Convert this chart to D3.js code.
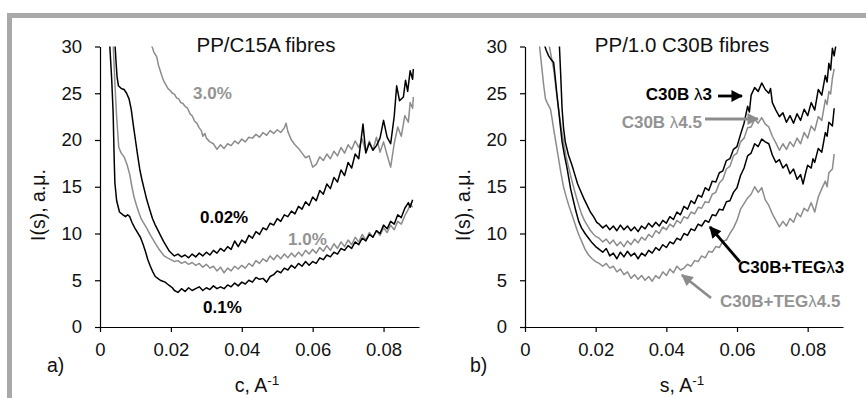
<!DOCTYPE html>
<html><head><meta charset="utf-8">
<script src="https://cdn.jsdelivr.net/npm/d3@7/dist/d3.min.js"></script>
<style>body{margin:0;background:#fff}svg{display:block;font-family:"Liberation Sans",Arial,sans-serif}</style>
</head><body><svg id="c" width="866" height="398"></svg>
<script>
// ---- data (s in A^-1, I(s) in a.u.) ----
const xTicks = [0, 0.02, 0.04, 0.06, 0.08];
const xTickLabels = ["0", "0.02", "0.04", "0.06", "0.08"];
const yTicks = [0, 5, 10, 15, 20, 25, 30];
const titleA = "PP/C15A fibres";
const titleB = "PP/1.0 C30B fibres";

const c15a_002 = [[0.0042,30.5],[0.0045,28.5],[0.0048,26.8],[0.0052,25.8],[0.006,25.5],[0.0068,25.4],[0.0075,25.0],[0.0082,24.4],[0.0088,23.3],[0.0094,21.6],[0.01,20.0],[0.0106,18.4],[0.0112,16.9],[0.0118,15.8],[0.0125,14.7],[0.0132,13.6],[0.014,12.6],[0.0148,11.6],[0.0156,10.9],[0.0164,10.3],[0.0172,9.7],[0.018,9.1],[0.0188,8.6],[0.0196,8.1],[0.0204,7.8],[0.021,7.6],[0.022,7.8],[0.023,7.5],[0.024,7.7],[0.025,7.4],[0.026,7.8],[0.027,7.5],[0.028,7.9],[0.029,7.6],[0.030,8.0],[0.031,7.7],[0.032,8.2],[0.033,7.9],[0.034,8.4],[0.035,8.1],[0.036,8.6],[0.037,8.3],[0.038,9.2],[0.039,8.6],[0.040,9.3],[0.041,9.0],[0.042,9.8],[0.043,9.5],[0.044,10.2],[0.045,9.9],[0.046,10.6],[0.047,10.4],[0.048,11.1],[0.049,10.9],[0.050,11.6],[0.051,11.3],[0.052,12.0],[0.053,11.8],[0.054,12.4],[0.055,12.1],[0.056,12.9],[0.057,12.6],[0.058,13.4],[0.059,13.0],[0.060,13.9],[0.061,13.5],[0.062,14.6],[0.063,14.2],[0.064,15.3],[0.065,14.8],[0.066,16.0],[0.067,15.5],[0.068,16.8],[0.069,16.2],[0.070,17.6],[0.071,17.0],[0.072,18.5],[0.073,18.0],[0.0742,21.7],[0.075,18.6],[0.076,19.7],[0.077,18.9],[0.078,19.4],[0.079,20.2],[0.080,22.1],[0.081,20.3],[0.082,19.6],[0.083,22.5],[0.0837,25.8],[0.0845,24.2],[0.0856,24.6],[0.0862,26.4],[0.0868,25.2],[0.0875,27.4],[0.0882,26.5],[0.0884,27.6]];

const c15a_01 = [[0.0027,30.5],[0.0033,26.5],[0.0037,23],[0.004,18],[0.0042,15.4],[0.0047,13.5],[0.0055,12.3],[0.0065,12.0],[0.0072,11.8],[0.0078,12.0],[0.0084,11.8],[0.009,11.2],[0.0098,10.6],[0.0106,10.1],[0.0114,9.6],[0.0121,8.9],[0.0128,8.1],[0.0135,7.2],[0.0142,6.5],[0.0149,5.9],[0.0156,5.4],[0.0163,5.2],[0.017,5.0],[0.0177,4.9],[0.0184,4.8],[0.019,4.6],[0.0197,4.4],[0.0204,4.2],[0.021,3.9],[0.022,3.7],[0.023,4.1],[0.024,3.8],[0.025,4.2],[0.026,3.9],[0.027,4.1],[0.028,4.3],[0.029,3.9],[0.030,4.2],[0.031,4.0],[0.032,4.4],[0.033,4.1],[0.034,4.3],[0.035,4.1],[0.036,4.5],[0.037,4.3],[0.038,4.7],[0.039,4.4],[0.040,4.8],[0.041,4.6],[0.042,5.0],[0.043,4.8],[0.044,5.3],[0.045,5.1],[0.046,5.2],[0.047,4.8],[0.048,5.4],[0.049,5.6],[0.050,6.0],[0.051,5.8],[0.052,6.3],[0.053,6.1],[0.054,6.6],[0.055,6.3],[0.056,6.8],[0.057,6.5],[0.058,7.0],[0.059,6.6],[0.060,7.0],[0.061,6.8],[0.062,7.4],[0.063,7.2],[0.064,7.7],[0.065,7.5],[0.066,8.0],[0.067,7.8],[0.068,8.4],[0.069,8.2],[0.070,8.7],[0.071,8.4],[0.072,9.1],[0.073,8.8],[0.074,9.5],[0.075,9.2],[0.076,9.9],[0.077,9.6],[0.078,10.3],[0.079,10.0],[0.080,10.9],[0.081,10.5],[0.082,11.3],[0.083,11.0],[0.084,12.0],[0.085,11.7],[0.086,12.7],[0.087,13.3],[0.0875,12.8],[0.0882,13.6]];

const c15a_10 = [[0.0037,30.5],[0.0042,26],[0.0047,22.4],[0.0053,19.2],[0.006,18.6],[0.0068,18.2],[0.0076,17.4],[0.0084,16.3],[0.009,15.0],[0.0096,13.9],[0.0103,13.0],[0.011,12.2],[0.0117,11.5],[0.0125,11.0],[0.0133,10.5],[0.0141,9.9],[0.0149,9.4],[0.0157,8.9],[0.0165,8.4],[0.0173,8.0],[0.0181,7.6],[0.019,7.4],[0.02,7.2],[0.021,7.0],[0.022,7.1],[0.023,6.8],[0.024,7.0],[0.025,6.7],[0.026,6.9],[0.027,6.6],[0.028,6.8],[0.029,6.4],[0.030,6.7],[0.031,6.3],[0.032,6.5],[0.033,6.0],[0.034,6.4],[0.035,5.8],[0.036,6.3],[0.037,6.0],[0.038,6.5],[0.039,6.2],[0.040,6.6],[0.041,6.3],[0.042,6.8],[0.043,6.5],[0.044,7.1],[0.045,6.8],[0.046,7.3],[0.047,7.0],[0.048,7.6],[0.049,7.2],[0.050,7.7],[0.051,7.3],[0.052,7.8],[0.053,7.4],[0.054,7.9],[0.055,7.5],[0.056,8.0],[0.057,7.6],[0.058,8.2],[0.059,7.8],[0.060,8.3],[0.061,7.9],[0.062,8.5],[0.063,8.1],[0.064,8.7],[0.065,8.2],[0.066,8.9],[0.067,8.4],[0.068,9.1],[0.069,8.6],[0.070,9.3],[0.071,8.8],[0.072,9.6],[0.073,9.1],[0.074,9.9],[0.075,9.3],[0.076,10.1],[0.077,9.6],[0.078,10.3],[0.079,9.8],[0.080,10.6],[0.081,10.1],[0.082,10.9],[0.083,10.4],[0.084,11.3],[0.085,11.0],[0.086,11.9],[0.087,12.6],[0.0875,13.2],[0.0882,12.8]];

const c15a_30 = [[0.0145,30.2],[0.0152,29.4],[0.016,28.9],[0.0165,28.0],[0.017,27.4],[0.0175,26.8],[0.018,26.3],[0.0186,25.9],[0.0192,25.5],[0.0198,25.3],[0.0204,25.0],[0.021,24.9],[0.0216,24.5],[0.0222,24.4],[0.0228,24.0],[0.0234,23.9],[0.024,23.6],[0.0247,23.4],[0.0254,22.8],[0.026,22.6],[0.0267,22.0],[0.0273,21.8],[0.028,21.3],[0.0286,21.0],[0.029,20.4],[0.0296,20.7],[0.030,20.2],[0.031,19.8],[0.032,19.6],[0.033,19.0],[0.034,19.5],[0.035,19.1],[0.036,19.6],[0.037,19.4],[0.038,19.9],[0.039,19.6],[0.040,20.1],[0.041,19.8],[0.042,20.3],[0.043,20.2],[0.044,20.6],[0.045,20.3],[0.046,20.8],[0.047,20.5],[0.048,21.0],[0.049,20.7],[0.050,21.1],[0.051,20.8],[0.052,21.3],[0.0525,21.8],[0.053,20.9],[0.054,20.0],[0.055,19.5],[0.056,19.1],[0.057,18.6],[0.058,18.1],[0.059,18.3],[0.060,17.1],[0.061,17.4],[0.062,18.2],[0.063,17.8],[0.064,18.5],[0.065,18.0],[0.066,18.8],[0.067,18.3],[0.068,19.2],[0.069,18.6],[0.070,19.5],[0.071,19.0],[0.072,19.9],[0.073,19.2],[0.074,20.1],[0.075,18.7],[0.076,19.9],[0.077,18.9],[0.078,20.3],[0.079,18.7],[0.080,19.8],[0.081,18.4],[0.082,17.1],[0.083,19.6],[0.084,21.4],[0.085,20.4],[0.086,22.6],[0.087,21.9],[0.0875,24.0],[0.0882,23.4],[0.0884,24.6]];

const c30b_l3 = [[0.0097,30.4],[0.0101,27],[0.0105,23.3],[0.0109,21.3],[0.0114,19.8],[0.0123,18.4],[0.0133,17.3],[0.0141,16.3],[0.0149,15.3],[0.0158,14.5],[0.0167,13.7],[0.0176,13.0],[0.0185,12.3],[0.0194,11.8],[0.0203,11.2],[0.021,11.0],[0.022,10.6],[0.023,10.9],[0.024,10.4],[0.025,10.8],[0.026,10.3],[0.027,10.9],[0.028,10.4],[0.029,10.8],[0.030,10.3],[0.031,10.7],[0.032,10.2],[0.033,10.8],[0.034,10.5],[0.035,11.1],[0.036,10.7],[0.037,11.2],[0.038,10.8],[0.039,11.4],[0.040,11.1],[0.041,11.8],[0.042,11.5],[0.043,12.3],[0.044,12.0],[0.045,12.9],[0.046,12.6],[0.047,13.5],[0.048,13.2],[0.049,14.1],[0.050,13.9],[0.051,14.9],[0.052,14.6],[0.053,15.6],[0.054,15.5],[0.055,16.5],[0.056,16.7],[0.057,17.8],[0.058,18.0],[0.059,19.0],[0.060,19.3],[0.061,20.6],[0.062,21.8],[0.063,23.6],[0.0635,23.0],[0.064,24.8],[0.065,25.6],[0.066,25.2],[0.067,26.1],[0.068,25.4],[0.069,25.0],[0.0695,25.5],[0.070,24.0],[0.071,23.2],[0.072,22.5],[0.073,22.9],[0.074,21.9],[0.075,22.6],[0.076,21.8],[0.077,22.8],[0.078,22.1],[0.079,23.3],[0.080,22.6],[0.081,24.0],[0.082,23.2],[0.083,25.4],[0.084,24.8],[0.085,26.9],[0.0855,26.2],[0.086,28.2],[0.0865,27.5],[0.087,29.8],[0.0875,29.0],[0.088,30.2]];

const c30b_l45 = [[0.0067,30.4],[0.0074,29.0],[0.0081,27.6],[0.0088,25.4],[0.0095,23.3],[0.0102,21.4],[0.0109,19.8],[0.0116,18.3],[0.0124,17.0],[0.0131,15.9],[0.0138,14.9],[0.0146,13.8],[0.0153,12.9],[0.016,12.1],[0.0168,11.4],[0.0176,10.9],[0.0184,10.4],[0.0192,10.0],[0.02,9.7],[0.021,9.5],[0.022,9.1],[0.023,9.4],[0.024,8.9],[0.025,9.3],[0.026,8.7],[0.027,9.1],[0.028,8.6],[0.029,9.2],[0.030,8.8],[0.031,9.4],[0.032,9.0],[0.033,9.6],[0.034,9.3],[0.035,9.9],[0.036,9.6],[0.037,10.3],[0.038,10.0],[0.039,10.7],[0.040,10.4],[0.041,11.0],[0.042,10.7],[0.043,11.4],[0.044,11.1],[0.045,11.8],[0.046,11.6],[0.047,12.3],[0.048,12.1],[0.049,12.8],[0.050,12.7],[0.051,13.4],[0.052,13.3],[0.053,14.2],[0.054,14.4],[0.055,15.4],[0.056,15.8],[0.057,16.9],[0.058,17.2],[0.059,18.3],[0.060,18.6],[0.061,19.8],[0.062,20.2],[0.063,21.3],[0.064,21.4],[0.065,22.2],[0.066,21.8],[0.067,22.4],[0.068,21.7],[0.069,21.4],[0.070,20.4],[0.071,19.7],[0.072,18.9],[0.073,19.6],[0.074,19.0],[0.075,19.8],[0.076,19.3],[0.077,20.2],[0.078,19.6],[0.079,20.8],[0.080,20.2],[0.081,21.5],[0.082,21.0],[0.083,22.5],[0.084,22.1],[0.085,24.3],[0.0855,23.8],[0.086,25.2],[0.0865,24.9],[0.087,26.6],[0.0875,27.6]];

const teg_l3 = [[0.0053,30.4],[0.006,29.6],[0.0067,29.0],[0.0074,28.6],[0.0081,28.3],[0.0085,26.9],[0.009,25.0],[0.0095,23.3],[0.01,21.5],[0.0105,19.8],[0.0112,18.3],[0.0119,17.0],[0.0124,15.9],[0.0129,14.8],[0.0137,13.5],[0.0144,12.4],[0.0152,11.3],[0.016,10.6],[0.017,10.0],[0.018,9.5],[0.019,9.0],[0.02,8.6],[0.021,8.3],[0.022,8.0],[0.023,8.4],[0.024,7.6],[0.025,7.9],[0.026,7.3],[0.027,8.0],[0.028,7.5],[0.029,8.1],[0.030,7.6],[0.031,7.9],[0.032,7.3],[0.033,7.9],[0.034,7.6],[0.035,8.2],[0.036,7.9],[0.037,8.5],[0.038,8.2],[0.039,8.8],[0.040,8.5],[0.041,9.1],[0.042,8.9],[0.043,9.5],[0.044,9.3],[0.045,10.0],[0.046,9.8],[0.047,10.5],[0.048,10.3],[0.049,11.0],[0.050,10.8],[0.051,11.4],[0.052,11.2],[0.053,12.0],[0.054,11.9],[0.055,12.6],[0.056,12.5],[0.057,13.4],[0.058,13.5],[0.059,14.4],[0.060,14.9],[0.061,16.2],[0.062,17.0],[0.063,18.3],[0.064,18.6],[0.065,19.6],[0.066,19.3],[0.067,20.1],[0.068,19.8],[0.069,19.6],[0.070,18.4],[0.071,17.6],[0.072,17.9],[0.073,17.0],[0.074,17.4],[0.075,16.4],[0.076,16.9],[0.077,15.8],[0.078,16.3],[0.0787,15.3],[0.0795,16.6],[0.080,17.3],[0.081,17.0],[0.0815,18.0],[0.082,17.6],[0.083,19.1],[0.084,18.7],[0.085,20.8],[0.0855,20.4],[0.086,21.9],[0.087,21.5],[0.0875,23.4]];

const teg_l45 = [[0.004,30.5],[0.0044,29.0],[0.0048,27.6],[0.0053,25.8],[0.0058,24.4],[0.0065,23.8],[0.0072,23.3],[0.0077,22.2],[0.0081,21.2],[0.0088,19.6],[0.0095,18.0],[0.0102,16.4],[0.0109,15.0],[0.0116,14.0],[0.0124,13.0],[0.0133,12.0],[0.014,11.2],[0.0147,10.4],[0.0154,9.7],[0.0161,9.1],[0.017,8.3],[0.018,7.7],[0.019,7.3],[0.02,7.0],[0.021,6.8],[0.022,6.5],[0.023,6.8],[0.024,6.3],[0.025,6.5],[0.026,5.9],[0.027,6.2],[0.028,5.6],[0.029,5.9],[0.030,5.2],[0.031,5.6],[0.032,5.1],[0.033,5.5],[0.034,5.0],[0.035,5.4],[0.036,4.9],[0.037,5.5],[0.038,5.2],[0.039,5.9],[0.040,5.5],[0.041,6.2],[0.042,5.8],[0.043,6.5],[0.044,6.1],[0.045,6.3],[0.046,6.7],[0.047,6.5],[0.048,7.1],[0.049,7.0],[0.050,7.6],[0.051,7.4],[0.052,8.1],[0.053,8.0],[0.054,8.6],[0.055,8.5],[0.056,9.2],[0.057,9.3],[0.058,10.0],[0.059,10.6],[0.060,11.4],[0.061,12.6],[0.062,13.2],[0.063,13.8],[0.064,14.2],[0.065,15.0],[0.066,14.4],[0.067,14.9],[0.068,13.6],[0.069,13.0],[0.070,12.1],[0.071,11.4],[0.072,10.7],[0.073,11.3],[0.074,10.8],[0.075,11.6],[0.076,11.2],[0.077,12.2],[0.078,11.8],[0.079,12.7],[0.080,12.4],[0.081,13.3],[0.082,12.3],[0.083,13.9],[0.084,14.8],[0.085,15.6],[0.0855,15.0],[0.086,16.5],[0.087,16.9],[0.0875,18.5]];

const BLACK = "#000", GREY = "#8c8c8c", GREYTXT = "#939393";

const svg = d3.select("#c");
// outer grey frame
svg.append("rect").attr("x", 9.5).attr("y", 15.5).attr("width", 1000).attr("height", 600)
  .attr("fill", "none").attr("stroke", "#a9a9a9").attr("stroke-width", 5);

const defs = svg.append("defs");
function marker(id, col) {
  defs.append("marker").attr("id", id).attr("viewBox", "0 0 10 10").attr("refX", 9).attr("refY", 5)
    .attr("markerWidth", 4.2).attr("markerHeight", 4.2).attr("orient", "auto")
    .append("path").attr("d", "M0,0 L10,5 L0,10 z").attr("fill", col);
}
marker("ab", BLACK); marker("ag", GREY);

function panel(cfg) {
  const x = d3.scaleLinear().domain([0, 0.09]).range([cfg.x0, cfg.x1]);
  const y = d3.scaleLinear().domain([0, 30]).range([327, 46.5]);
  const g = svg.append("g");
  const clipId = "clip" + cfg.id;
  defs.append("clipPath").attr("id", clipId).append("rect")
    .attr("x", cfg.x0).attr("y", y(30)).attr("width", cfg.x1 - cfg.x0).attr("height", y(0) - y(30));

  const line = d3.line().x(d => x(d[0])).y(d => y(d[1]));
  const lg = g.append("g").attr("clip-path", `url(#${clipId})`);
  cfg.series.forEach(s => {
    lg.append("path").datum(s.data).attr("d", line).attr("fill", "none")
      .attr("stroke", s.color).attr("stroke-width", 1.5).attr("stroke-linejoin", "round");
  });

  const xa = g.append("g").attr("transform", `translate(0,${y(0)})`)
    .call(d3.axisBottom(x).tickValues(xTicks).tickFormat((d, i) => xTickLabels[i]).tickSize(5).tickSizeOuter(0).tickPadding(11));
  const ya = g.append("g").attr("transform", `translate(${cfg.x0},0)`)
    .call(d3.axisLeft(y).tickValues(yTicks).tickSize(5).tickSizeOuter(0).tickPadding(13));
  [xa, ya].forEach(a => {
    a.selectAll("path,line").attr("stroke", "#000").attr("stroke-width", 1.2);
    a.selectAll("text").attr("font-size", 18.5).attr("fill", "#111").attr("font-family", "Liberation Sans, Arial, sans-serif");
  });

  g.append("text").attr("x", cfg.titleX).attr("y", 52)
    .attr("text-anchor", "middle").attr("font-size", 20.5).attr("fill", "#111").text(cfg.title);

  const xt = g.append("text").attr("x", cfg.xlabX).attr("y", 392).attr("text-anchor", "middle")
    .attr("font-size", 19.5).attr("fill", "#111");
  xt.append("tspan").text(cfg.xlab + ", A");
  xt.append("tspan").attr("dy", -7).attr("font-size", 13.5).text("-1");

  g.append("text").attr("transform", `translate(${cfg.ylabX},205) rotate(-90)`).attr("text-anchor", "middle")
    .attr("font-size", 19.5).attr("fill", "#111").text("I(s), a.\u03bc.");

  g.append("text").attr("x", cfg.tagX).attr("y", 372).attr("font-size", 19.5).attr("fill", "#111").text(cfg.tag);
  return {x, y, g};
}

const A = panel({id: "a", x0: 100, x1: 419, title: titleA, titleX: 266, xlab: "c", xlabX: 257, ylabX: 45, tag: "a)", tagX: 47,
  series: [
    {data: c15a_30, color: GREY},
    {data: c15a_10, color: GREY},
    {data: c15a_01, color: BLACK},
    {data: c15a_002, color: BLACK}
  ]});
const B = panel({id: "b", x0: 525, x1: 843, title: titleB, titleX: 682, xlab: "s", xlabX: 682, ylabX: 470, tag: "b)", tagX: 470,
  series: [
    {data: teg_l45, color: GREY},
    {data: c30b_l45, color: GREY},
    {data: teg_l3, color: BLACK},
    {data: c30b_l3, color: BLACK}
  ]});

function lab(x, y, txt, col, anchor) {
  svg.append("text").attr("x", x).attr("y", y).attr("font-size", 17).attr("font-weight", "bold")
    .attr("fill", col).attr("text-anchor", anchor || "start").text(txt);
}
lab(193, 99, "3.0%", GREYTXT);
lab(200, 223, "0.02%", BLACK);
lab(288, 245, "1.0%", GREYTXT);
lab(203, 313, "0.1%", BLACK);

function labL(x, y, a, b, col, anchor) {
  const t = svg.append("text").attr("x", x).attr("y", y).attr("font-size", 17).attr("fill", col)
    .attr("text-anchor", anchor || "start");
  t.append("tspan").attr("font-weight", "bold").text(a);
  t.append("tspan").attr("font-weight", "normal").text("\u03bb");
  t.append("tspan").attr("font-weight", "bold").text(b);
}
labL(712, 100, "C30B ", "3", BLACK, "end");
labL(702, 128, "C30B ", "4.5", GREYTXT, "end");
labL(738, 273, "C30B+TEG", "3", BLACK);
labL(720, 307, "C30B+TEG", "4.5", GREYTXT);

function arrow(x1, y1, x2, y2, col, id) {
  svg.append("line").attr("x1", x1).attr("y1", y1).attr("x2", x2).attr("y2", y2)
    .attr("stroke", col).attr("stroke-width", 2.8).attr("marker-end", `url(#${id})`);
}
arrow(718, 96, 742, 96, BLACK, "ab");
arrow(705, 119, 758, 119, GREY, "ag");
arrow(740, 262, 710, 227, BLACK, "ab");
arrow(711, 298, 682, 275, GREY, "ag");
</script></body></html>
